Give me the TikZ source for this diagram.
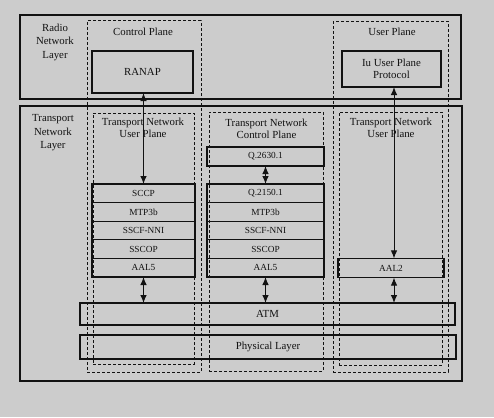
\documentclass[tikz,border=0pt]{standalone}
\usepackage{fontspec}
\setmainfont{Liberation Serif}
\usetikzlibrary{arrows.meta}
\definecolor{bg}{RGB}{204,204,204}
\definecolor{ink}{RGB}{18,18,18}
\tikzset{
  solidbox/.style={draw=ink, line width=1.1pt, inner sep=0pt, outer sep=0pt, text=ink},
  dashbox/.style={draw=ink, line width=1pt, dash pattern=on 3pt off 2pt, inner sep=0pt, outer sep=0pt},
  lbl/.style={text=ink, font=\fontsize{10.8}{11.8}\selectfont, align=center, inner sep=0pt},
  layerlbl/.style={text=ink, font=\fontsize{10.8}{13.5}\selectfont, align=center, inner sep=0pt},
  stackbox/.style={solidbox, font=\fontsize{9.3}{10}\selectfont},
  arr/.style={draw=ink, line width=1pt, {Latex[length=8pt,width=6.5pt]}-{Latex[length=8pt,width=6.5pt]}}
}
\begin{document}
\begin{tikzpicture}[x=1pt,y=-1pt]
\fill[bg] (0,0) rectangle (494,417);
\useasboundingbox (0,0) rectangle (494,417);

% layers
\node[solidbox, minimum width=441pt, minimum height=84pt] (radio) at (240.5,57) {};
\node[solidbox, minimum width=442pt, minimum height=275pt] (transport) at (241,243.5) {};
\node[layerlbl] (radiolbl) at (55,42) {Radio\\Network\\Layer};
\node[layerlbl] (translbl) at (53,133) {Transport\\Network\\Layer};

% planes
\node[dashbox, minimum width=114pt, minimum height=351pt] (cp) at (144,196.5) {};
\node[dashbox, minimum width=115pt, minimum height=350.5pt] (up) at (390.5,196.75) {};
\node[lbl] (cplbl) at (143,32) {Control Plane};
\node[lbl] (uplbl) at (392,32) {User Plane};

\node[solidbox, lbl, minimum width=101pt, minimum height=42pt] (ranap) at (142.5,72) {RANAP};
\node[solidbox, lbl, minimum width=99pt, minimum height=36pt] (iu) at (391.5,69) {Iu User Plane\\Protocol};

% transport sub-planes
\node[dashbox, minimum width=101pt, minimum height=251pt] (tnupl) at (143.5,238.5) {};
\node[dashbox, minimum width=114pt, minimum height=259pt] (tncp) at (266,241.5) {};
\node[dashbox, minimum width=103pt, minimum height=253pt] (tnupr) at (390.5,238.5) {};
\node[lbl] (tnupllbl) at (143,128) {Transport Network\\User Plane};
\node[lbl] (tncplbl) at (266.5,128.5) {Transport Network\\Control Plane};
\node[lbl] (tnuprlbl) at (391,128) {Transport Network\\User Plane};

% left stack
\node[stackbox, minimum width=103pt, minimum height=18.6pt] (sccp) at (143.5,193.3) {SCCP};
\node[stackbox, minimum width=103pt, minimum height=18.6pt] (mtpl) at (143.5,211.9) {MTP3b};
\node[stackbox, minimum width=103pt, minimum height=18.6pt] (sscfl) at (143.5,230.5) {SSCF-NNI};
\node[stackbox, minimum width=103pt, minimum height=18.6pt] (sscopl) at (143.5,249.1) {SSCOP};
\node[stackbox, minimum width=103pt, minimum height=18.6pt] (aal5l) at (143.5,267.7) {AAL5};

% middle stack
\node[stackbox, minimum width=117pt, minimum height=19pt] (q2630) at (265.5,156.5) {Q.2630.1};
\node[stackbox, minimum width=117pt, minimum height=18.6pt] (q2150) at (265.5,193.3) {Q.2150.1};
\node[stackbox, minimum width=117pt, minimum height=18.6pt] (mtpm) at (265.5,211.9) {MTP3b};
\node[stackbox, minimum width=117pt, minimum height=18.6pt] (sscfm) at (265.5,230.5) {SSCF-NNI};
\node[stackbox, minimum width=117pt, minimum height=18.6pt] (sscopm) at (265.5,249.1) {SSCOP};
\node[stackbox, minimum width=117pt, minimum height=18.6pt] (aal5m) at (265.5,267.7) {AAL5};

% right stack
\node[stackbox, minimum width=106pt, minimum height=19.2pt] (aal2) at (391,268) {AAL2};

% common layers
\node[solidbox, lbl, minimum width=375pt, minimum height=22pt] (atm) at (267.5,314) {ATM};
\node[solidbox, lbl, minimum width=376pt, minimum height=24pt] (phy) at (268,347) {Physical Layer};

% arrows
\draw[arr] (sccp.north) -- (sccp.north |- ranap.south);
\draw[arr] ([xshift=3pt]aal2.north) -- ([xshift=3pt]aal2.north |- iu.south);
\draw[arr] (q2630.south) -- (q2150.north);
\draw[arr] (aal5l.south) -- (aal5l.south |- atm.north);
\draw[arr] (aal5m.south) -- (aal5m.south |- atm.north);
\draw[arr] ([xshift=3pt]aal2.south) -- ([xshift=3pt]aal2.south |- atm.north);
\end{tikzpicture}
\end{document}
